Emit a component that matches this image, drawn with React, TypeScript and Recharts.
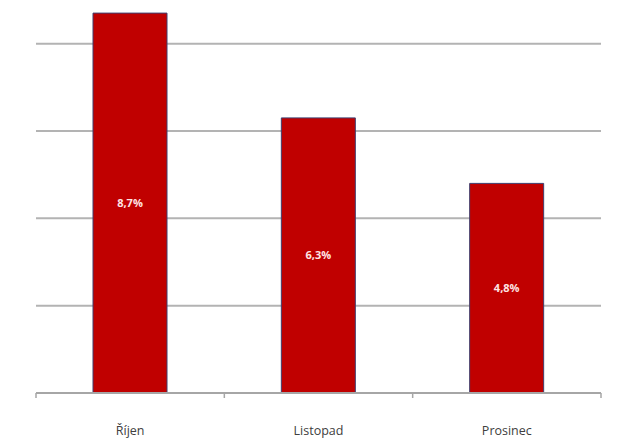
import { BarChart, Bar, XAxis, YAxis, CartesianGrid, LabelList } from 'recharts';

const months = ['Říjen', 'Listopad', 'Prosinec'];
const rates = [8.7, 6.3, 4.8];
const gridTicks = [0, 2, 4, 6, 8];
const gridLines = [2, 4, 6, 8];

const data = months.map((name, i) => ({ name, rate: rates[i] }));

const W = 640;
const H = 445;
const M = { top: 0, right: 39, bottom: 22, left: 36 };
const band = (W - M.left - M.right) / months.length;

function MonthTick(props: any) {
  const { x, y, payload, index } = props;
  const left = x - band / 2;
  const last = index === months.length - 1;
  return (
    <g>
      <line x1={left} y1={y - 8} x2={left} y2={y - 3} stroke="#a6a6a6" strokeWidth={1.5} />
      {last && <line x1={left + band} y1={y - 8} x2={left + band} y2={y - 3} stroke="#a6a6a6" strokeWidth={1.5} />}
      <text x={x} y={y + 34} textAnchor="middle" fill="#404040" fontSize={12.5} fontFamily="'Open Sans', sans-serif">
        {payload.value}
      </text>
    </g>
  );
}

export default function App() {
  return (
    <div style={{ position: 'absolute', left: 0, top: 0, width: W, height: H, background: '#fff' }}>
      <BarChart width={W} height={H} data={data} margin={M} barSize={74}>
        <CartesianGrid vertical={false} horizontalValues={gridLines} stroke="#b3b3b3" strokeWidth={2} />
        <YAxis hide domain={[0, 9]} ticks={gridTicks} allowDataOverflow />
        <XAxis
          dataKey="name"
          axisLine={{ stroke: '#a6a6a6', strokeWidth: 2 }}
          tickLine={false}
          height={30}
          tick={<MonthTick />}
          interval={0}
        />
        <Bar dataKey="rate" fill="#c00000" stroke="#3f3f6f" strokeWidth={1} isAnimationActive={false}>
          <LabelList
            dataKey="rate"
            position="center"
            fill="#ffe4e4"
            fontSize={11}
            fontWeight="bold"
            fontFamily="'Open Sans', sans-serif"
            formatter={(v: any) => `${String(v).replace('.', ',')}%`}
          />
        </Bar>
      </BarChart>
    </div>
  );
}
